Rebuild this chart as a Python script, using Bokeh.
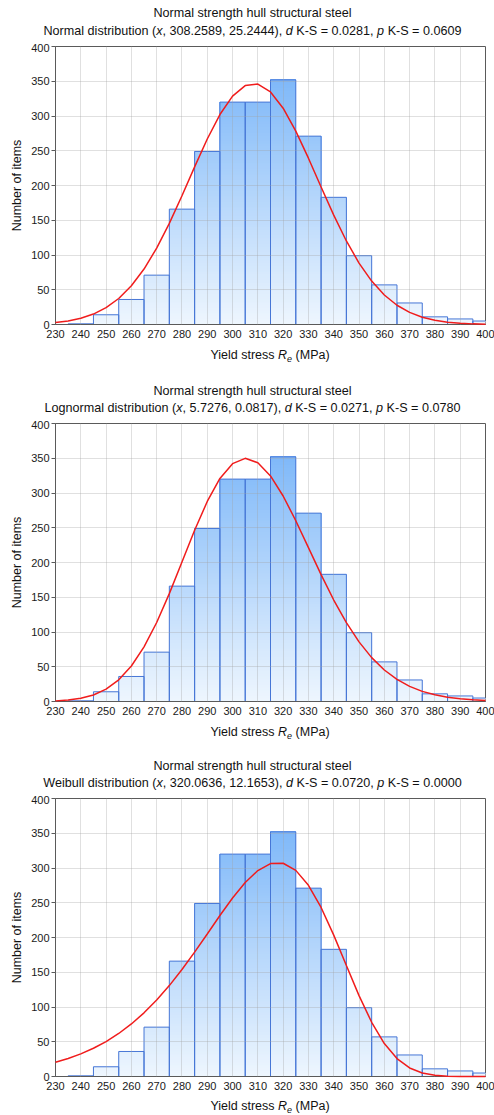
from bokeh.plotting import figure
from bokeh.models import FixedTicker, Range1d, Div
from bokeh.layouts import column
from bokeh.embed import file_html
from bokeh.resources import INLINE

# ---------------- data ----------------
bin_centers = [240, 250, 260, 270, 280, 290, 300, 310, 320, 330, 340, 350, 360, 370, 380, 390, 400]
counts = [1, 14, 36, 71, 166, 249, 320, 320, 352, 271, 183, 99, 57, 31, 11, 8, 5]
bin_width = 10

fit_x = [230, 235, 240, 245, 250, 255, 260, 265, 270, 275, 280, 285, 290, 295, 300, 305, 310,
         315, 320, 325, 330, 335, 340, 345, 350, 355, 360, 365, 370, 375, 380, 385, 390, 395, 400]
normal_fit = [2.8, 5.1, 9.0, 15.0, 24.2, 37.4, 55.7, 79.8, 109.9, 145.5, 185.2, 226.8, 266.9, 302.1,
              328.7, 343.8, 345.9, 334.6, 311.2, 278.3, 239.3, 197.8, 157.3, 120.2, 88.4, 62.5, 42.4,
              27.7, 17.4, 10.5, 6.1, 3.4, 1.8, 0.9, 0.5]
lognormal_fit = [0.9, 2.1, 4.6, 9.4, 17.8, 31.2, 51.1, 78.6, 113.7, 155.2, 200.7, 246.3, 287.8, 320.9,
                 342.2, 349.9, 343.5, 324.6, 295.7, 260.1, 221.4, 182.5, 146.0, 113.4, 85.8, 63.1, 45.3,
                 31.8, 21.8, 14.6, 9.6, 6.1, 3.9, 2.4, 1.5]
weibull_fit = [20.5, 25.9, 32.5, 40.6, 50.3, 61.9, 75.6, 91.6, 110.0, 130.8, 153.9, 178.9, 205.1, 231.6,
               256.8, 279.1, 296.3, 306.3, 306.8, 296.6, 275.1, 243.2, 203.4, 159.7, 116.4, 78.0, 47.4,
               25.8, 12.3, 5.1, 1.8, 0.5, 0.1, 0.0, 0.0]

x_ticks = [230, 240, 250, 260, 270, 280, 290, 300, 310, 320, 330, 340, 350, 360, 370, 380, 390, 400]
y_ticks = [0, 50, 100, 150, 200, 250, 300, 350, 400]

main_title = "Normal strength hull structural steel"
normal_sub = [("Normal distribution (", False), ("x", True), (", 308.2589, 25.2444), ", False),
              ("d", True), (" K-S = 0.0281, ", False), ("p", True), (" K-S = 0.0609", False)]
lognormal_sub = [("Lognormal distribution (", False), ("x", True), (", 5.7276, 0.0817), ", False),
                 ("d", True), (" K-S = 0.0271, ", False), ("p", True), (" K-S = 0.0780", False)]
weibull_sub = [("Weibull distribution (", False), ("x", True), (", 320.0636, 12.1653), ", False),
               ("d", True), (" K-S = 0.0720, ", False), ("p", True), (" K-S = 0.0000", False)]
x_label_main = "Yield stress "
x_label_symbol = "R"
x_label_sub = "e"
x_label_unit = " (MPa)"
y_label = "Number of items"

# ---------------- styling / layout ----------------
FONT = "Liberation Sans"
FONT_CSS = "'Liberation Sans', Arial, sans-serif"
X0, X1, Y0, Y1 = 230, 400, 0, 400
FIG_W = 494
BORDER_L, BORDER_R = 55, 9
FRAME_H = 278
FIG_TOP, FIG_BOTTOM = 3, 22
TITLE_CX = 252.5        # title centre, px from the left of the page
XLABEL_CX = BORDER_L + (FIG_W - BORDER_L - BORDER_R) / 2.0
TEXT_COLOR = "#111111"


def hexcol(y):
    t = max(0.0, min(1.0, y / 400.0))
    lo = (238, 246, 254)
    hi = (112, 176, 248)
    c = [int(round(a + (b - a) * t)) for a, b in zip(lo, hi)]
    return "#%02x%02x%02x" % tuple(c)


def line_html(inner, cx, cy, size):
    return ("<div style=\"position:absolute;left:%.1fpx;top:%.1fpx;transform:translate(-50%%,-50%%);"
            "white-space:nowrap;font-size:%.1fpx;line-height:15px;\">%s</div>" % (cx, cy, size, inner))


def sub_html(parts):
    return "".join("<i>%s</i>" % t if it else t for t, it in parts)


def xlabel_html():
    return ("%s<i>%s</i><span style=\"font-size:9px;font-style:italic;position:relative;top:3px;\">%s</span>%s"
            % (x_label_main, x_label_symbol, x_label_sub, x_label_unit))


def text_div(height, lines):
    inner = "".join(line_html(h, cx, cy, s) for h, cx, cy, s in lines)
    html = ("<div style=\"position:relative;width:%dpx;height:%dpx;font-family:%s;color:%s;\">%s</div>"
            % (FIG_W, height, FONT_CSS, TEXT_COLOR, inner))
    return Div(text=html, width=FIG_W, height=height, margin=(0, 0, 0, 0),
               styles={"font-family": FONT_CSS, "color": TEXT_COLOR, "overflow": "visible"})


def panel(fit_y):
    p = figure(width=FIG_W, height=FIG_TOP + FRAME_H + FIG_BOTTOM,
               x_range=Range1d(X0, X1), y_range=Range1d(Y0, Y1),
               output_backend="svg", toolbar_location=None,
               min_border_left=BORDER_L, min_border_right=BORDER_R,
               min_border_top=FIG_TOP, min_border_bottom=FIG_BOTTOM)
    p.title.visible = False
    p.outline_line_color = "#5a5a5a"
    p.outline_line_width = 1
    p.background_fill_color = "white"
    p.border_fill_color = "white"

    p.xgrid.ticker = FixedTicker(ticks=x_ticks)
    p.ygrid.ticker = FixedTicker(ticks=y_ticks)
    p.grid.grid_line_color = "#a0a0a0"
    p.grid.grid_line_alpha = 0.33
    p.grid.level = "guide"

    xa = p.xaxis[0]
    xa.ticker = FixedTicker(ticks=x_ticks)
    xa.major_tick_in = 0
    xa.major_tick_out = 0
    xa.minor_tick_line_color = None
    xa.major_label_standoff = 5
    xa.major_label_text_font = FONT
    xa.major_label_text_font_size = "11px"
    xa.major_label_text_color = "#1a1a1a"
    xa.axis_line_color = "#5a5a5a"

    ya = p.yaxis[0]
    ya.ticker = FixedTicker(ticks=y_ticks)
    ya.major_tick_in = 0
    ya.major_tick_out = 4
    ya.major_tick_line_color = "#5a5a5a"
    ya.minor_tick_line_color = None
    ya.major_label_standoff = 2
    ya.major_label_text_font = FONT
    ya.major_label_text_font_size = "11px"
    ya.major_label_text_color = "#1a1a1a"
    ya.axis_line_color = "#5a5a5a"
    ya.axis_label = y_label
    ya.axis_label_text_font = FONT
    ya.axis_label_text_font_size = "12.5px"
    ya.axis_label_text_font_style = "normal"
    ya.axis_label_text_color = TEXT_COLOR
    ya.axis_label_standoff = 4

    # gradient-filled histogram bars (colour bands by absolute height)
    band = 4.0
    bl, br, bb, bt, bc = [], [], [], [], []
    for c, h in zip(bin_centers, counts):
        y0 = 0.0
        while y0 < h:
            bl.append(c - bin_width / 2)
            br.append(c + bin_width / 2)
            bb.append(y0)
            bt.append(h)
            bc.append(hexcol(min(y0 + band / 2, h)))
            y0 += band
    p.quad(left=bl, right=br, bottom=bb, top=bt, fill_color=bc, line_color=None)
    p.quad(left=[c - bin_width / 2 for c in bin_centers], right=[c + bin_width / 2 for c in bin_centers],
           bottom=0, top=counts, fill_color=None, line_color="#4676d6", line_width=1)

    r = p.line(fit_x, fit_y, line_color="#f01c1c", line_width=1.5)
    r.level = "annotation"
    return p


TS = 12.6   # title font size
LS = 12.5   # x label font size

d1 = text_div(43, [(main_title, TITLE_CX, 13.0, TS), (sub_html(normal_sub), TITLE_CX, 31.0, TS)])
p1 = panel(normal_fit)
d2 = text_div(74, [(xlabel_html(), XLABEL_CX, 10.0, LS),
                   (main_title, TITLE_CX, 45.0, TS), (sub_html(lognormal_sub), TITLE_CX, 62.0, TS)])
p2 = panel(lognormal_fit)
d3 = text_div(72, [(xlabel_html(), XLABEL_CX, 10.0, LS),
                   (main_title, TITLE_CX, 43.0, TS), (sub_html(weibull_sub), TITLE_CX, 60.0, TS)])
p3 = panel(weibull_fit)
d4 = text_div(16, [(xlabel_html(), XLABEL_CX, 8.5, LS)])

layout = column(d1, p1, d2, p2, d3, p3, d4, spacing=0)
open("out.html", "w").write(file_html(layout, INLINE))
